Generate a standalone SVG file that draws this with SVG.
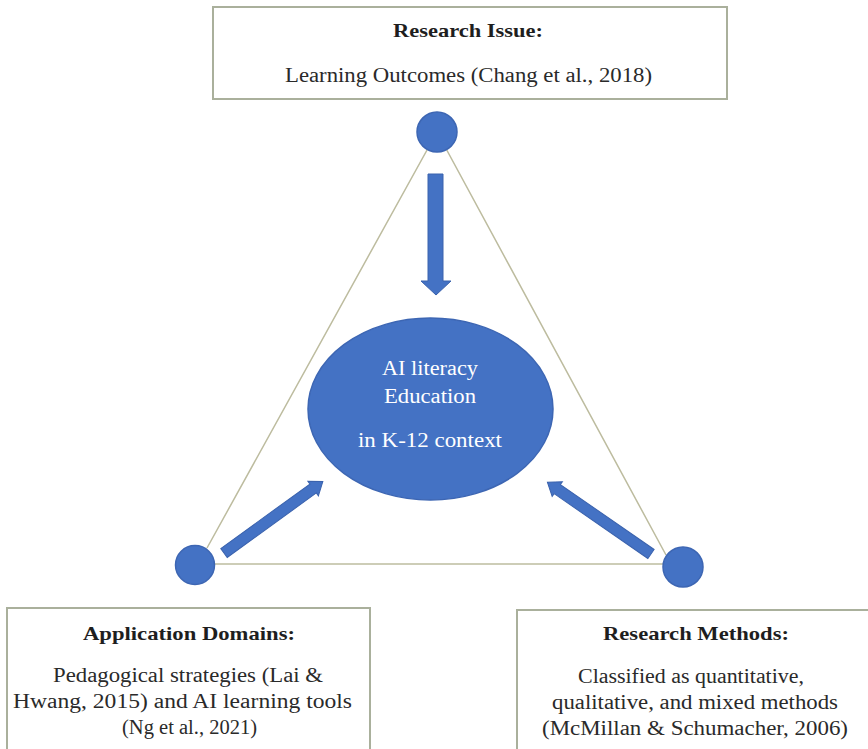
<svg xmlns="http://www.w3.org/2000/svg" width="868" height="749" viewBox="0 0 868 749">
<style>
.bg{fill:#ffffff}
.box{fill:#ffffff;stroke:#aab09c;stroke-width:2}
.tri{fill:none;stroke:#bdbc9f;stroke-width:1.5}
.dot{fill:#4472c4;stroke:#3d66b3;stroke-width:1.5}
.arrow{fill:#4472c4;stroke:#3a62ad;stroke-width:1}
text{font-family:'Liberation Serif','Times New Roman','DejaVu Serif',serif;text-anchor:middle}
.hd{font-weight:bold;font-size:19px;fill:#1e1e1e}
.tx{font-size:20px;fill:#2a2a2a}
.wt{font-size:20px;fill:#ffffff}
</style>
<rect class="bg" x="0" y="0" width="868" height="749"/>
<g id="connectors">
  <polyline class="tri" points="207,548 437,132 666,555"/>
  <line class="tri" x1="195" y1="564" x2="683" y2="564"/>
  <polygon class="arrow" points="428,174 443,174 443,281 451,281 436,295 421,281 428,281"/>
  <g transform="translate(224,553) rotate(-35.9)">
    <polygon class="arrow" points="0,-5.5 110,-5.5 110,-9 122,0 110,9 110,5.5 0,5.5"/>
  </g>
  <g transform="translate(651,554) rotate(-145.3)">
    <polygon class="arrow" points="0,-5.5 114,-5.5 114,-9 126,0 114,9 114,5.5 0,5.5"/>
  </g>
</g>
<g id="node-research-issue">
  <rect class="box" x="213" y="7" width="514" height="92"/>
  <text class="hd" x="468" y="37" textLength="150" lengthAdjust="spacingAndGlyphs">Research Issue:</text>
  <text class="tx" x="468.5" y="82" textLength="367" lengthAdjust="spacingAndGlyphs">Learning Outcomes (Chang et al., 2018)</text>
</g>
<g id="node-top-dot">
  <circle class="dot" cx="437" cy="132" r="20"/>
</g>
<g id="node-left-dot">
  <circle class="dot" cx="195" cy="565" r="19.5"/>
</g>
<g id="node-right-dot">
  <circle class="dot" cx="683" cy="567" r="20"/>
</g>
<g id="node-center">
  <ellipse class="dot" cx="430.5" cy="409" rx="122.5" ry="91"/>
  <text class="wt" x="430" y="375" textLength="96" lengthAdjust="spacingAndGlyphs">AI literacy</text>
  <text class="wt" x="430" y="403" textLength="92" lengthAdjust="spacingAndGlyphs">Education</text>
  <text class="wt" x="430" y="447" textLength="144" lengthAdjust="spacingAndGlyphs">in K-12 context</text>
</g>
<g id="node-application-domains">
  <rect class="box" x="7" y="608" width="363" height="150"/>
  <text class="hd" x="189" y="640" textLength="212" lengthAdjust="spacingAndGlyphs">Application Domains:</text>
  <text class="tx" x="188" y="682" textLength="270" lengthAdjust="spacingAndGlyphs">Pedagogical strategies (Lai &amp;</text>
  <text class="tx" x="182.5" y="708" textLength="339" lengthAdjust="spacingAndGlyphs">Hwang, 2015) and AI learning tools</text>
  <text class="tx" x="189.5" y="734" textLength="135" lengthAdjust="spacingAndGlyphs">(Ng et al., 2021)</text>
</g>
<g id="node-research-methods">
  <rect class="box" x="517" y="610" width="370" height="150"/>
  <text class="hd" x="696" y="640" textLength="186" lengthAdjust="spacingAndGlyphs">Research Methods:</text>
  <text class="tx" x="691" y="683" textLength="226" lengthAdjust="spacingAndGlyphs">Classified as quantitative,</text>
  <text class="tx" x="695" y="709" textLength="286" lengthAdjust="spacingAndGlyphs">qualitative, and mixed methods</text>
  <text class="tx" x="695" y="735" textLength="306" lengthAdjust="spacingAndGlyphs">(McMillan &amp; Schumacher, 2006)</text>
</g>
</svg>
